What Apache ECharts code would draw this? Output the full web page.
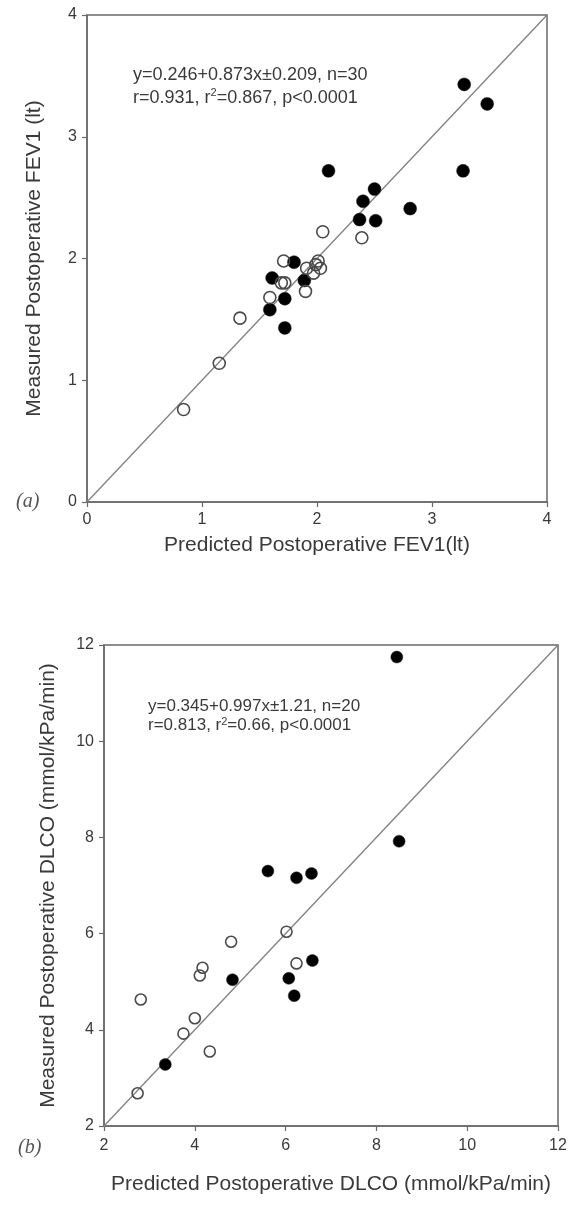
<!DOCTYPE html>
<html>
<head>
<meta charset="utf-8">
<script src="https://cdn.jsdelivr.net/npm/echarts@6/dist/echarts.min.js"></script>
<style>
html,body{margin:0;padding:0;background:#fff;}
#c{width:573px;height:1205px;}
</style>
</head>
<body>
<div id="c"></div>
<script>
// Panel (a): FEV1
const fevTicks = [0, 1, 2, 3, 4];
const fevFilled = [
  [3.28, 3.43], [3.48, 3.27], [2.10, 2.72], [3.27, 2.72], [2.50, 2.57],
  [2.40, 2.47], [2.81, 2.41], [2.37, 2.32], [2.51, 2.31], [1.80, 1.97],
  [1.61, 1.84], [1.89, 1.82], [1.72, 1.67], [1.59, 1.58], [1.72, 1.43]
];
const fevOpen = [
  [2.05, 2.22], [2.39, 2.17], [1.71, 1.98], [2.01, 1.98], [1.91, 1.92],
  [2.03, 1.92], [1.97, 1.88], [1.69, 1.80], [1.72, 1.80], [1.90, 1.73],
  [1.59, 1.68], [1.33, 1.51], [1.15, 1.14], [0.84, 0.76], [1.99, 1.95]
];
const fevIdentity = [[0, 0], [4, 4]];

// Panel (b): DLCO
const dlcoTicks = [2, 4, 6, 8, 10, 12];
const dlcoFilled = [
  [8.45, 11.75], [8.50, 7.92], [5.61, 7.30], [6.24, 7.16], [6.57, 7.25],
  [6.59, 5.44], [4.83, 5.04], [6.07, 5.07], [6.19, 4.71], [3.35, 3.28]
];
const dlcoOpen = [
  [6.02, 6.04], [4.80, 5.83], [4.17, 5.29], [4.11, 5.13], [6.24, 5.38],
  [2.81, 4.63], [4.00, 4.24], [3.75, 3.92], [4.33, 3.55], [2.74, 2.68]
];
const dlcoIdentity = [[2, 2], [12, 12]];

const textA1 = 'y=0.246+0.873x±0.209, n=30';
const textA2 = ['r=0.931, r', '2', '=0.867, p<0.0001'];
const textB1 = 'y=0.345+0.997x±1.21, n=20';
const textB2 = ['r=0.813, r', '2', '=0.66, p<0.0001'];

const FONT = 'Liberation Sans, Arial, sans-serif';
const axisCol = '#6a6a6a';
const txtCol = '#3a3a3a';

function axisCfg(gi, ticks, name, gap, margin) {
  return {
    gridIndex: gi, type: 'value', min: ticks[0], max: ticks[ticks.length - 1],
    interval: ticks[1] - ticks[0],
    name: name, nameLocation: 'middle', nameGap: gap,
    nameTextStyle: { fontFamily: FONT, fontSize: 21, color: txtCol },
    axisLine: { show: true, onZero: false, lineStyle: { color: axisCol, width: 1.5 } },
    axisTick: { show: true, length: 5, lineStyle: { color: axisCol, width: 1.2 } },
    axisLabel: { fontFamily: FONT, fontSize: 16, color: txtCol, margin: margin },
    splitLine: { show: false }
  };
}

function lineSeries(xi, data) {
  return {
    type: 'line', xAxisIndex: xi, yAxisIndex: xi, data: data, symbol: 'none',
    lineStyle: { color: '#808080', width: 1.3 }, silent: true, z: 1, animation: false
  };
}
function filledSeries(xi, data, size) {
  return {
    type: 'scatter', xAxisIndex: xi, yAxisIndex: xi, data: data, symbolSize: size,
    itemStyle: { color: '#000', borderColor: '#222', borderWidth: 0.5, opacity: 1 }, z: 3, animation: false
  };
}
function openSeries(xi, data, size) {
  return {
    type: 'scatter', xAxisIndex: xi, yAxisIndex: xi, data: data, symbolSize: size,
    itemStyle: { color: 'rgba(0,0,0,0)', borderColor: '#4a4a4a', borderWidth: 1.6, opacity: 1 }, z: 4, animation: false
  };
}

function richText(left, top, l1, l2, fs, lh) {
  return {
    type: 'text', left: left, top: top, z: 10,
    style: {
      text: l1 + '\n{n|' + l2[0] + '}{s|' + l2[1] + '}{n|' + l2[2] + '}',
      fontFamily: FONT, fontSize: fs, fill: txtCol, lineHeight: lh,
      rich: {
        n: { fontFamily: FONT, fontSize: fs, fill: txtCol, lineHeight: lh },
        s: { fontFamily: FONT, fontSize: Math.round(fs * 0.62), fill: txtCol, verticalAlign: 'top', lineHeight: lh, padding: [0, 0, 9, 0] }
      }
    }
  };
}

const chart = echarts.init(document.getElementById('c'), null, { renderer: 'canvas' });
chart.setOption({
  animation: false,
  backgroundColor: '#fff',
  grid: [
    { left: 87, right: 26, top: 15, height: 487, show: true, borderColor: axisCol, borderWidth: 1.5, backgroundColor: 'transparent' },
    { left: 104, right: 15, top: 645, height: 481, show: true, borderColor: axisCol, borderWidth: 1.5, backgroundColor: 'transparent' }
  ],
  xAxis: [
    axisCfg(0, fevTicks, 'Predicted Postoperative FEV1(lt)', 33, 10),
    axisCfg(1, dlcoTicks, 'Predicted Postoperative DLCO (mmol/kPa/min)', 48, 12)
  ],
  yAxis: [
    axisCfg(0, fevTicks, 'Measured Postoperative FEV1 (lt)', 42, 10),
    axisCfg(1, dlcoTicks, 'Measured Postoperative DLCO (mmol/kPa/min)', 45, 10)
  ],
  series: [
    lineSeries(0, fevIdentity),
    filledSeries(0, fevFilled, 13),
    openSeries(0, fevOpen, 12),
    lineSeries(1, dlcoIdentity),
    filledSeries(1, dlcoFilled, 12),
    openSeries(1, dlcoOpen, 11)
  ],
  graphic: [
    richText(133, 64, textA1, textA2, 18, 23),
    richText(148, 697, textB1, textB2, 17, 19),
    { type: 'text', left: 16, top: 492, style: { text: '(a)', fontFamily: 'Liberation Serif, Times New Roman, serif', fontStyle: 'italic', fontSize: 20, fill: '#555' } },
    { type: 'text', left: 18, top: 1138, style: { text: '(b)', fontFamily: 'Liberation Serif, Times New Roman, serif', fontStyle: 'italic', fontSize: 20, fill: '#555' } }
  ]
});
</script>
</body>
</html>
